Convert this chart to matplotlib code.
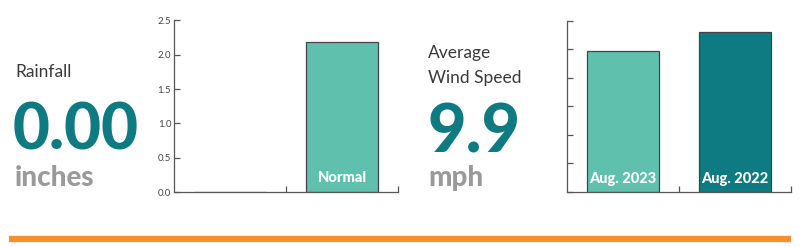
import matplotlib.pyplot as plt

# 데이터
rain_labels = ['', 'Normal']
rain_values = [0.00, 2.18]
rain_ticks = [0.0, 0.5, 1.0, 1.5, 2.0, 2.5]

wind_labels = ['Aug. 2023', 'Aug. 2022']
wind_values = [9.9, 11.2]
wind_ticks = [0, 2, 4, 6, 8, 10, 12]

teal = '#0e7a82'
light = '#5fc1ad'
gray = '#9a9a9a'
orange = '#f7902b'

plt.rcParams['font.family'] = ['Lato', 'DejaVu Sans']

W, H = 801, 247
fig = plt.figure(figsize=(W / 100, H / 100), dpi=100)


def px(x, y):
    return x / W, 1 - y / H


def style_ax(ax, ticks):
    ax.set_xlim(-0.5, 1.5)
    ax.set_ylim(ticks[0], ticks[-1])
    ax.set_yticks(ticks)
    ax.set_xticks([0.5, 1.5])
    ax.set_xticklabels([])
    for s in ['top', 'right']:
        ax.spines[s].set_visible(False)
    for s in ['left', 'bottom']:
        ax.spines[s].set_color('#555555')
        ax.spines[s].set_linewidth(0.9)
    ax.tick_params(direction='in', length=4, width=0.9, color='#555555',
                   labelsize=7, labelcolor='#444444', pad=2)
    ax.patch.set_alpha(0)


# 왼쪽 강수량 차트
ax1 = fig.add_axes([174 / W, 1 - 192 / H, 224 / W, 171.5 / H])
ax1.bar([0, 1], rain_values, width=0.64, color=[light, light],
        edgecolor='#444444', linewidth=0.9)
style_ax(ax1, rain_ticks)
ax1.set_yticklabels([f'{t:.1f}' for t in rain_ticks])
ax1.text(1, 0.2, rain_labels[1], ha='center', va='center', color='white',
         fontsize=10.5, fontweight='black')

# 오른쪽 풍속 차트
ax2 = fig.add_axes([567 / W, 1 - 192 / H, 224 / W, 171.5 / H])
ax2.bar([0, 1], wind_values, width=0.64, color=[light, teal],
        edgecolor='#444444', linewidth=0.9)
style_ax(ax2, wind_ticks)
ax2.set_yticklabels([])
for i, lab in enumerate(wind_labels):
    ax2.text(i, 0.9, lab, ha='center', va='center', color='white',
             fontsize=10.5, fontweight='black')

# 텍스트
fig.text(*px(15, 77), 'Rainfall', fontsize=12.5, color='#3a3a3a',
         fontweight='normal', va='baseline')
fig.text(*px(13, 150), '0.00', fontsize=46, color=teal,
         fontweight='black', va='baseline')
fig.text(*px(15, 186), 'inches', fontsize=20, color=gray,
         fontweight='black', va='baseline')

fig.text(*px(428, 58), 'Average', fontsize=12.5, color='#3a3a3a',
         fontweight='normal', va='baseline')
fig.text(*px(428, 83), 'Wind Speed', fontsize=12.5, color='#3a3a3a',
         fontweight='normal', va='baseline')
fig.text(*px(428, 152), '9.9', fontsize=48, color=teal,
         fontweight='black', va='baseline')
fig.text(*px(428, 186), 'mph', fontsize=20, color=gray,
         fontweight='black', va='baseline')

# 주황색 선
fig.add_artist(plt.Line2D([9 / W, 791 / W], [1 - 239 / H, 1 - 239 / H],
                          color=orange, linewidth=4.5,
                          transform=fig.transFigure, solid_capstyle='butt'))

fig.savefig('out.png', dpi=100)
